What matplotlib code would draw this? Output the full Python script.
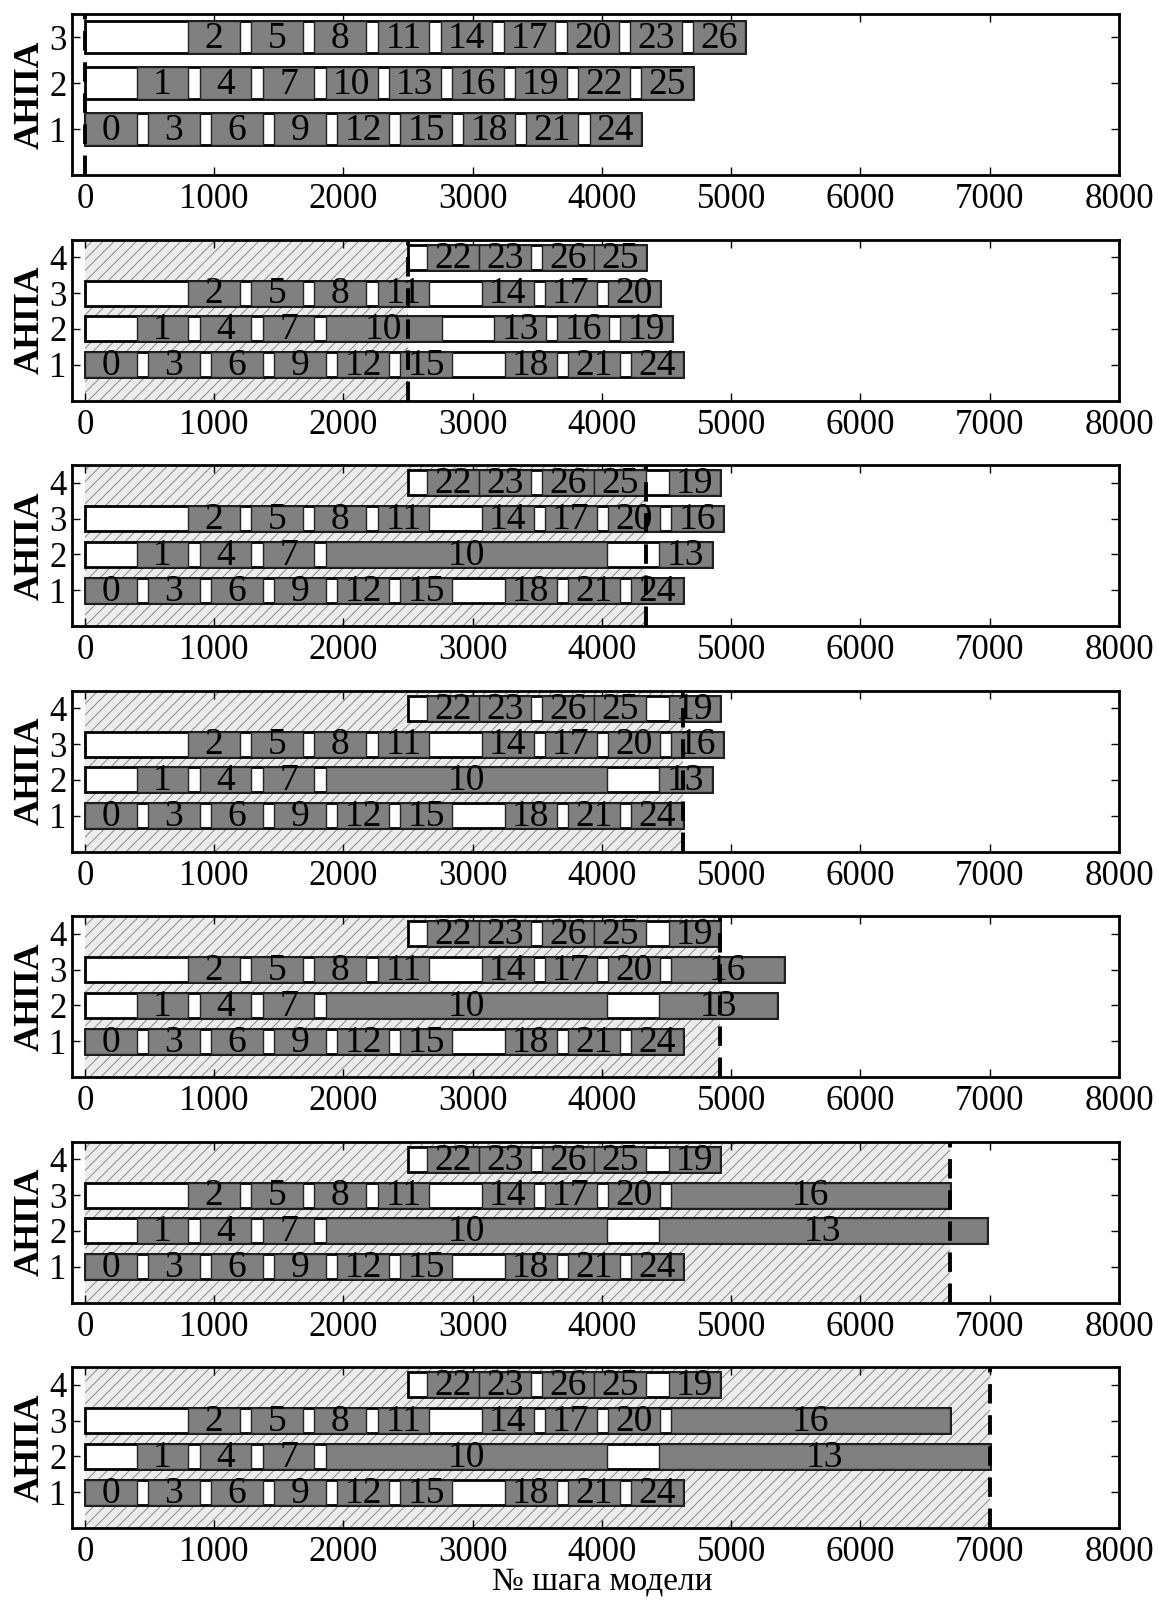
import matplotlib
matplotlib.use("Agg")
import matplotlib.pyplot as plt
from matplotlib.patches import Rectangle

plt.rcParams['font.family'] = ['Liberation Serif', 'DejaVu Serif']
plt.rcParams['hatch.linewidth'] = 0.7

# ---- schedule data: (task number, start step, end step) ----
# initial plan, three vehicles
row1_plan = [(0, 0, 400), (3, 488, 888), (6, 976, 1376), (9, 1464, 1864), (12, 1952, 2352),
             (15, 2440, 2840), (18, 2928, 3328), (21, 3416, 3816), (24, 3904, 4304)]
row2_plan = [(1, 400, 800), (4, 888, 1288), (7, 1376, 1776), (10, 1864, 2264), (13, 2352, 2752),
             (16, 2840, 3240), (19, 3328, 3728), (22, 3816, 4216), (25, 4304, 4704)]
row3_plan = [(2, 800, 1200), (5, 1288, 1688), (8, 1776, 2176), (11, 2264, 2664), (14, 2752, 3152),
             (17, 3240, 3640), (20, 3728, 4128), (23, 4216, 4616), (26, 4704, 5104)]

# after the fourth vehicle joins
row1_new = [(0, 0, 400), (3, 488, 888), (6, 976, 1376), (9, 1464, 1864), (12, 1952, 2352),
            (15, 2440, 2840), (18, 3250, 3650), (21, 3738, 4138), (24, 4226, 4626)]
row2_head = [(1, 400, 800), (4, 888, 1288), (7, 1376, 1776)]
row2_tail_a = [(10, 1864, 2760), (13, 3166, 3566), (16, 3654, 4054), (19, 4142, 4542)]
row2_tail_b = [(10, 1864, 4040), (13, 4443, 4848)]
row2_tail_c = [(10, 1864, 4040), (13, 4443, 5356)]
row2_tail_d = [(10, 1864, 4040), (13, 4443, 6975)]
row2_tail_e = [(10, 1864, 4040), (13, 4443, 7000)]
row3_head = [(2, 800, 1200), (5, 1288, 1688), (8, 1776, 2176), (11, 2264, 2664),
             (14, 3072, 3472), (17, 3560, 3960), (20, 4048, 4448)]
row3_tail_b = [(16, 4536, 4936)]
row3_tail_c = [(16, 4536, 5406)]
row3_tail_d = [(16, 4536, 6690)]
row4_head = [(22, 2648, 3048), (23, 3048, 3448), (26, 3536, 3936), (25, 3936, 4340)]
row4_tail = [(19, 4516, 4916)]

row_starts = [0, 0, 0, 2500]

panels = [
    [row1_plan, row2_plan, row3_plan],
    [row1_new, row2_head + row2_tail_a, row3_head, row4_head],
    [row1_new, row2_head + row2_tail_b, row3_head + row3_tail_b, row4_head + row4_tail],
    [row1_new, row2_head + row2_tail_b, row3_head + row3_tail_b, row4_head + row4_tail],
    [row1_new, row2_head + row2_tail_c, row3_head + row3_tail_c, row4_head + row4_tail],
    [row1_new, row2_head + row2_tail_d, row3_head + row3_tail_d, row4_head + row4_tail],
    [row1_new, row2_head + row2_tail_e, row3_head + row3_tail_d, row4_head + row4_tail],
]
current_step = [0, 2500, 4340, 4626, 4916, 6690, 7000]

x_ticks = [0, 1000, 2000, 3000, 4000, 5000, 6000, 7000, 8000]

BAR_H = 0.7
TASK_COLOR = '#808080'

fig = plt.figure(figsize=(11.59, 16.0), dpi=100)
W, H = 1159.0, 1600.0
AX_LEFT, AX_W = 72, 1047

for i, rows in enumerate(panels):
    top_px = 14 + 225.5 * i
    h_px = 161
    ax = fig.add_axes([AX_LEFT / W, 1 - (top_px + h_px) / H, AX_W / W, h_px / H])
    n = len(rows)
    ax.set_xlim(-100, 8000)
    ax.set_ylim(0, n + 0.5)

    now = current_step[i]
    if now > 0:
        ax.add_patch(Rectangle((0, 0), now, n + 0.5, facecolor='#ececec', edgecolor='#8a8a8a',
                               hatch='///', linewidth=0, zorder=1))

    for r, tasks in enumerate(rows):
        y = r + 1
        start = row_starts[r]
        end = max(t[2] for t in tasks)
        ax.add_patch(Rectangle((start, y - BAR_H / 2), end - start, BAR_H,
                               facecolor='white', edgecolor='black', linewidth=2.0, zorder=2))
        for label, t0, t1 in tasks:
            ax.add_patch(Rectangle((t0, y - BAR_H / 2), t1 - t0, BAR_H,
                                   facecolor=TASK_COLOR, edgecolor='#222222', linewidth=1.0, zorder=3))
            ax.text((t0 + t1) / 2, y - 0.03, str(label), ha='center', va='center',
                    fontsize=27, color='black', zorder=4)

    ax.axvline(now, color='black', linestyle=(0, (5, 3)), linewidth=2.8, zorder=6)

    ax.set_xticks(x_ticks)
    ax.set_xticklabels([str(v) for v in x_ticks])
    ax.set_yticks(list(range(1, n + 1)))
    ax.tick_params(direction='in', length=6, width=1, top=True, right=True,
                   labelsize=25, pad=6)
    ax.tick_params(axis='y', pad=4)
    for s in ax.spines.values():
        s.set_linewidth(2)
        s.set_zorder(7)
    ax.set_ylabel('АНПА', fontsize=26, fontweight='bold', labelpad=2)

fig.text((AX_LEFT + AX_W * 4100 / 8100) / W, 10 / H, '№ шага модели',
         ha='center', va='baseline', fontsize=24)

fig.savefig('out.png', dpi=100)
